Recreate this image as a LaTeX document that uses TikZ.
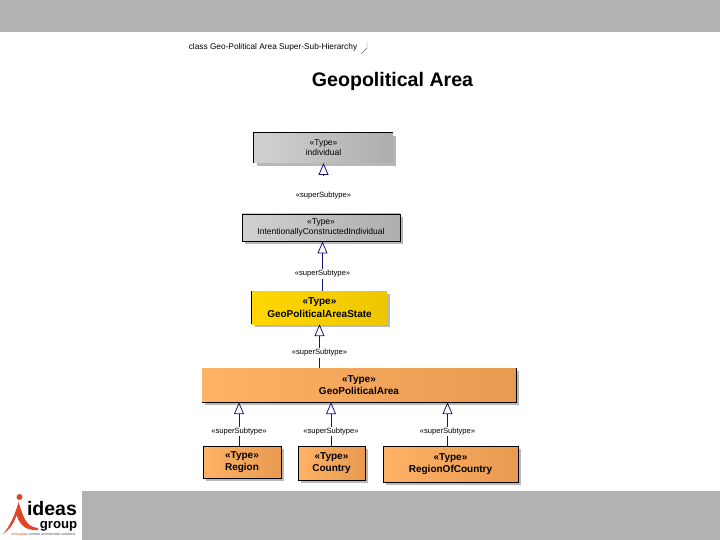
\documentclass[tikz,border=0pt]{standalone}
\usepackage{fontspec}
\setmainfont{Liberation Sans}
\usetikzlibrary{arrows.meta}
\usetikzlibrary{positioning}
\definecolor{barcol}{HTML}{B2B2B2}
\definecolor{linkcol}{HTML}{14147A}
\definecolor{logored}{HTML}{E0452A}
\definecolor{orangeleft}{HTML}{FFB266}
\definecolor{orangeright}{HTML}{E89A50}
\definecolor{yellowleft}{HTML}{FFD800}
\definecolor{yellowright}{HTML}{EEC600}
\colorlet{shadowcol}{black!28}
\tikzset{
    typebox/.style = {inner sep = 0pt, align = center, font = \fontsize{8.5}{10}\selectfont,
        preaction = {fill = shadowcol, transform canvas = {shift = {(3pt,-3pt)}}}},
    graybox/.style = {typebox, left color = black!18, right color = black!32},
    orangebox/.style = {typebox, left color = orangeleft, right color = orangeright,
        font = \fontsize{10}{12.5}\selectfont\bfseries},
    linklabel/.style = {fill = white, inner sep = 1pt, font = \fontsize{7.6}{9}\selectfont},
    superlink/.style = {draw = linkcol, line width = 1pt,
        -{Triangle[open, length = 12pt, width = 10pt, line width = 0.8pt]}},
    logotext/.style = {inner sep = 0pt, anchor = base, font = \bfseries},
}
\begin{document}
\begin{tikzpicture}[x = 1pt, y = -1pt]
    \useasboundingbox (0,0) rectangle (720,540);

    \fill[barcol] (0,0) rectangle (720,32);
    \fill[barcol] (82,491) rectangle (720,540);

    \node (header) at (273,47.5) {\fontsize{8.3}{10}\selectfont class Geo-Political Area Super-Sub-Hierarchy};
    \draw[black!60, line width = 0.4pt] (361,54) -- (367,48) -- (367,42);
    \node (title) at (392.5,81) {\fontsize{19.6}{22}\selectfont\bfseries Geopolitical Area};

    \node (individual) at (323.5,148) [graybox, minimum width = 139pt, minimum height = 30pt]
        {«Type»\\individual};
    \node (intentional) at (321,227.5) [graybox, draw, line width = 0.8pt, minimum width = 158pt, minimum height = 27pt]
        {«Type»\\IntentionallyConstructedIndividual};
    \node (state) at (319.5,307.5) [orangebox, left color = yellowleft, right color = yellowright, minimum width = 135pt, minimum height = 33pt]
        {«Type»\\GeoPoliticalAreaState};
    \node (area) at (359,385) [orangebox, minimum width = 314pt, minimum height = 34pt]
        {«Type»\\GeoPoliticalArea};
    \node (region) at (242,462) [orangebox, draw, line width = 0.8pt, minimum width = 78pt, minimum height = 32pt]
        {«Type»\\Region};
    \node (country) at (331.5,463) [orangebox, draw, line width = 0.8pt, minimum width = 67pt, minimum height = 34pt]
        {«Type»\\Country};
    \node (regionofcountry) at (450.5,464) [orangebox, draw, line width = 0.8pt, minimum width = 135pt, minimum height = 36pt]
        {«Type»\\RegionOfCountry};

    % dark edges of the boxes that have no full outline
    \draw[line width = 0.8pt] (individual.south west) |- (individual.north east);
    \draw[line width = 0.8pt] (state.south west) -- (state.north west);
    \draw[line width = 0.8pt] (area.north east) |- (area.south west);

    \coordinate (stub) at (323.5,176);
    \coordinate (stubtip) at (323.5,163);
    \coordinate (x2) at (322.5,0);
    \coordinate (x4) at (239,0);
    \coordinate (x5) at (331,0);
    \coordinate (x6) at (447.5,0);

    \draw[superlink] (stub) -- (stubtip);
    \node (label1) at (323.5,195.5) [linklabel] {«superSubtype»};

    \draw[superlink] (state.north -| x2) -- (intentional.south -| x2) node (label2) [pos = 0.34, linklabel] {«superSubtype»};
    \draw[superlink] (area.north -| state) -- (state.south) node (label3) [pos = 0.34, linklabel] {«superSubtype»};

    \draw[superlink] (region.north -| x4) -- (area.south -| x4) node (label4) [pos = 0.32, linklabel] {«superSubtype»};
    \draw[superlink] (country.north -| x5) -- (area.south -| x5) node (label5) [pos = 0.32, linklabel] {«superSubtype»};
    \draw[superlink] (regionofcountry.north -| x6) -- (area.south -| x6) node (label6) [pos = 0.32, linklabel] {«superSubtype»};

    % logo
    \fill[logored] (19.5,497) circle (3pt);
    \fill[logored] (18.5,502) .. controls (23,515) and (25,527) .. (38,528)
        -- (38,530) .. controls (23,531) and (19,522) .. (16.5,515)
        .. controls (14,524) and (9,530) .. (3,534) .. controls (10,526) and (15,515) .. (18.5,502) -- cycle;
    \node (ideas) at (52,515) [logotext] {\fontsize{19.5}{19.5}\selectfont ideas};
    \node (group) at (58.5,528) [logotext] {\fontsize{13.2}{13.2}\selectfont group};
    \node (tagline) at (43.5,535) [inner sep = 0pt] {\fontsize{3.6}{3.6}\selectfont\color{logored}enterprise \color{black!70}content architecture solutions};
\end{tikzpicture}
\end{document}
